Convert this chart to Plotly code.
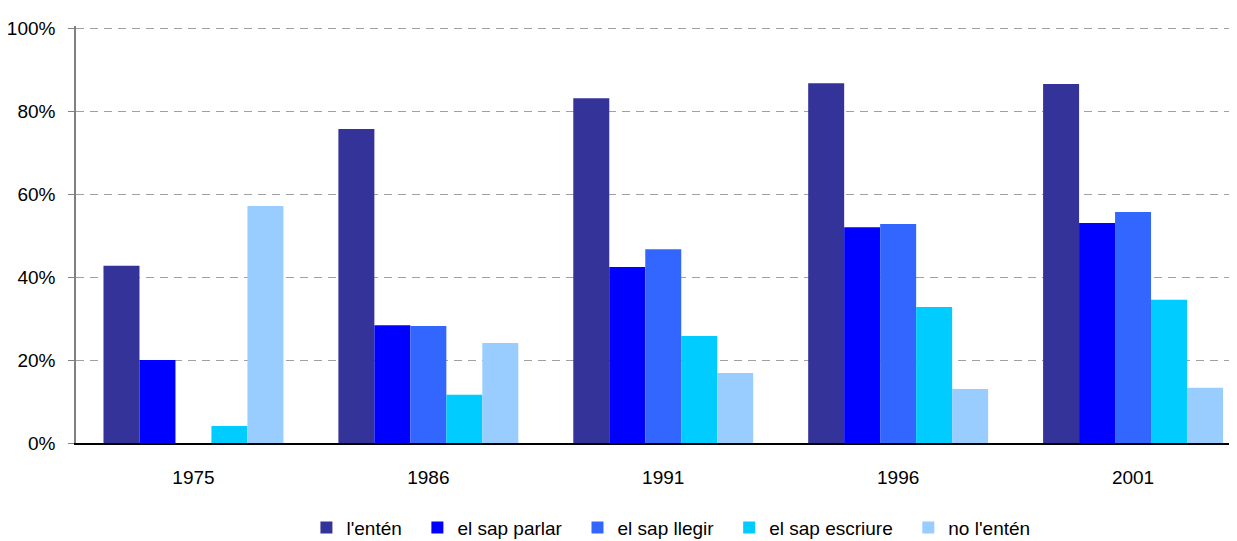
import plotly.graph_objects as go

years = ["1975", "1986", "1991", "1996", "2001"]
series_names = ["l'entén", "el sap parlar", "el sap llegir", "el sap escriure", "no l'entén"]
entén = [42.7, 75.7, 83.1, 86.7, 86.5]
sap_parlar = [20.0, 28.4, 42.4, 52.0, 53.0]
sap_llegir = [None, 28.2, 46.7, 52.8, 55.7]
sap_escriure = [4.1, 11.6, 25.8, 32.8, 34.5]
no_entén = [57.1, 24.1, 16.9, 13.0, 13.3]
y_ticks = [0, 20, 40, 60, 80, 100]
y_ticklabels = ["0%", "20%", "40%", "60%", "80%", "100%"]
colors = ["#333399", "#0000FF", "#3366FF", "#00CCFF", "#99CCFF"]

values = [entén, sap_parlar, sap_llegir, sap_escriure, no_entén]

FONT = "Liberation Sans, Arial, sans-serif"
PAD = "\u00a0\u00a0"

fig = go.Figure()
for name, vals, c in zip(series_names, values, colors):
    fig.add_trace(go.Bar(x=years, y=vals, name=name + PAD,
                         marker=dict(color=c, line=dict(width=0))))

fig.update_layout(
    width=1231, height=533,
    margin=dict(l=68, r=0, t=18, b=98),
    plot_bgcolor="white", paper_bgcolor="white",
    barmode="group", bargap=0.234, bargroupgap=0,
    font=dict(family=FONT, size=19, color="black"),
    legend=dict(orientation="h", xref="container", yref="container",
                x=0.543, xanchor="center", y=0.025, yanchor="middle",
                font=dict(family=FONT, size=19), itemwidth=30, traceorder="normal"),
    showlegend=True,
)
fig.update_xaxes(showline=True, linecolor="black", linewidth=2, ticks="", showgrid=False,
                 ticklabelstandoff=16, automargin=False, range=[-0.5, 4.451])
fig.update_yaxes(range=[0, 100.5], tickvals=y_ticks, ticktext=y_ticklabels,
                 showline=True, linecolor="#808080",
                 linewidth=1.5, ticks="outside", ticklen=6, tickcolor="#808080",
                 showgrid=True, gridcolor="#A0A0A0", griddash="8px,6px", gridwidth=1,
                 zeroline=False, ticklabelstandoff=9, automargin=False)

fig.write_html("out.html")
